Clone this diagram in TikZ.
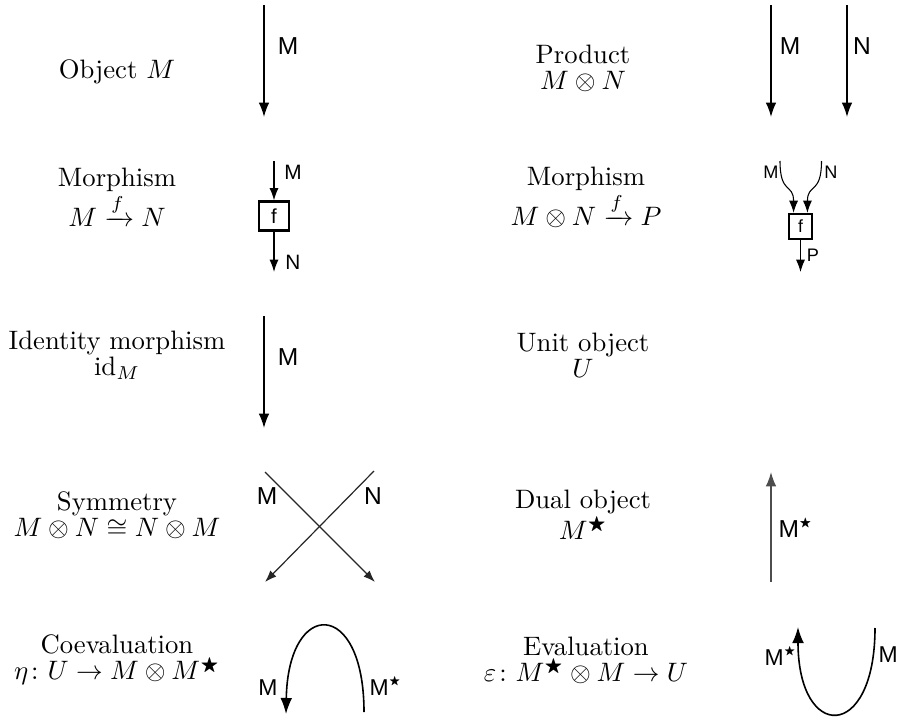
\documentclass[tikz,border=0pt]{standalone}
\usepackage{amsmath,amssymb}
\usepackage{fontspec}
\newfontfamily\labelfont{Liberation Sans}
\usetikzlibrary{arrows.meta}
\definecolor{wireGray}{HTML}{4D4D4D}
\newcommand{\lblstar}{$^{\scriptscriptstyle\bigstar}$}
\newcommand{\capfont}{\fontsize{10}{9.8}\selectfont}

\begin{document}
\begin{tikzpicture}[
    x=0.375pt, y=-0.375pt,
    caption/.style={align=center, font=\capfont, inner sep=0pt},
    wire/.style={line width=0.6pt, -{Latex[length=5.4pt, width=4pt]}},
    smallWire/.style={line width=0.5pt, -{Latex[length=4.6pt, width=3.4pt]}},
    thinWire/.style={draw=black!85, line width=0.45pt, -{Latex[length=4.4pt, width=3.2pt]}},
    wireLabel/.style={font=\labelfont\fontsize{9.2}{9.2}\selectfont, inner sep=0pt},
    smallLabel/.style={font=\labelfont\fontsize{7.8}{7.8}\selectfont, inner sep=0pt},
    capLabel/.style={font=\labelfont\fontsize{8.6}{8.6}\selectfont, inner sep=0pt},
    tinyLabel/.style={font=\labelfont\fontsize{6.8}{6.8}\selectfont, inner sep=0pt},
    fBox/.style={draw, line width=0.8pt, inner sep=0pt, font=\labelfont\fontsize{7.6}{7.6}\selectfont},
]
\useasboundingbox (0,0) rectangle (897,717);

% captions, left column
\node[caption] (capObject) at (117,72) {Object $M$};
\node[caption] (capMorph) at (117,197) {Morphism\\$M \xrightarrow{f} N$};
\node[caption] (capId) at (117,355) {Identity morphism\\$\mathrm{id}_M$};
\node[caption] (capSym) at (117,515) {Symmetry\\$M \otimes N \cong N \otimes M$};
\node[caption] (capCoev) at (117,660) {Coevaluation\\$\eta\colon U \to M \otimes M^{\bigstar}$};

% captions, right column
\node[caption] (capProduct) at (583,68) {Product\\$M \otimes N$};
\node[caption] (capMorphTwo) at (586,197) {Morphism\\$M \otimes N \xrightarrow{f} P$};
\node[caption] (capUnit) at (583,355) {Unit object\\$U$};
\node[caption] (capDual) at (583,515) {Dual object\\$M^{\bigstar}$};
\node[caption] (capEval) at (586,660) {Evaluation\\$\varepsilon\colon M^{\bigstar} \otimes M \to U$};

% object
\coordinate (objTop) at (264,5);
\coordinate (objBot) at (264,117);
\draw[wire] (objTop) -- (objBot);
\node[wireLabel] (objM) at (288,46) {M};

% product
\coordinate (prodMTop) at (771,5);
\coordinate (prodMBot) at (771,117);
\coordinate (prodNTop) at (847,5);
\coordinate (prodNBot) at (847,117);
\draw[wire] (prodMTop) -- (prodMBot);
\draw[wire] (prodNTop) -- (prodNBot);
\node[wireLabel] (prodM) at (790,46) {M};
\node[wireLabel] (prodN) at (862,46) {N};

% morphism M -> N
\node[fBox, minimum width=11.4pt, minimum height=10.9pt] (fOne) at (274,216) {f};
\coordinate (morTop) at (274,161);
\coordinate (morBot) at (274,272);
\draw[smallWire] (morTop) -- (fOne.north);
\draw[smallWire] (fOne.south) -- (morBot);
\node[smallLabel] (morM) at (293,172) {M};
\node[smallLabel] (morN) at (293,262) {N};

% morphism M x N -> P
\node[fBox, minimum width=8.7pt, minimum height=9.5pt, line width=0.7pt,
      font=\labelfont\fontsize{6.6}{6.6}\selectfont] (fTwo) at (800.5,226.5) {f};
\coordinate (morTwoM) at (780,161);
\coordinate (morTwoN) at (821.5,161);
\coordinate (morTwoBot) at (800.5,272);
\draw[smallWire, line width=0.4pt] (morTwoM) .. controls +(0,34) and +(0,-30) .. ([xshift=-2.6pt]fTwo.north);
\draw[smallWire, line width=0.4pt] (morTwoN) .. controls +(0,34) and +(0,-30) .. ([xshift=2.6pt]fTwo.north);
\draw[smallWire, line width=0.4pt] (fTwo.south) -- (morTwoBot);
\node[tinyLabel] (morTwoMl) at (771,172) {M};
\node[tinyLabel] (morTwoNl) at (831,172) {N};
\node[tinyLabel] (morTwoP) at (813,255) {P};

% identity
\coordinate (idTop) at (264,316);
\coordinate (idBot) at (264,428);
\draw[wire] (idTop) -- (idBot);
\node[wireLabel] (idM) at (288,357) {M};

% symmetry
\coordinate (symMTop) at (265,472);
\coordinate (symMBot) at (375,582);
\coordinate (symNTop) at (374,471);
\coordinate (symNBot) at (265,582);
\draw[thinWire] (symMTop) -- (symMBot);
\draw[thinWire] (symNTop) -- (symNBot);
\node[wireLabel] (symM) at (267,496) {M};
\node[wireLabel] (symN) at (373,496) {N};

% dual object
\coordinate (dualBot) at (771,582);
\coordinate (dualTop) at (771,472);
\draw[wire, draw=wireGray] (dualBot) -- (dualTop);
\node[wireLabel, anchor=base west] (dualM) at (778,537) {M\lblstar};

% coevaluation
\coordinate (coevR) at (364,712);
\coordinate (coevL) at (286,714);
\draw[wire, -{Latex[length=6pt, width=4.4pt]}] (coevR) .. controls (364,598) and (288,598) .. (coevL);
\node[capLabel, anchor=base] (coevM) at (268,695) {M};
\node[capLabel, anchor=base west] (coevMs) at (369,695) {M\lblstar};

% evaluation
\coordinate (evalR) at (875,628);
\coordinate (evalL) at (798,627);
\draw[wire, -{Latex[length=6pt, width=4.4pt]}] (evalR) .. controls (875,742) and (798,742) .. (evalL);
\node[capLabel, anchor=base west] (evalMs) at (764,665) {M\lblstar};
\node[capLabel, anchor=base west] (evalM) at (878,662) {M};
\end{tikzpicture}
\end{document}
